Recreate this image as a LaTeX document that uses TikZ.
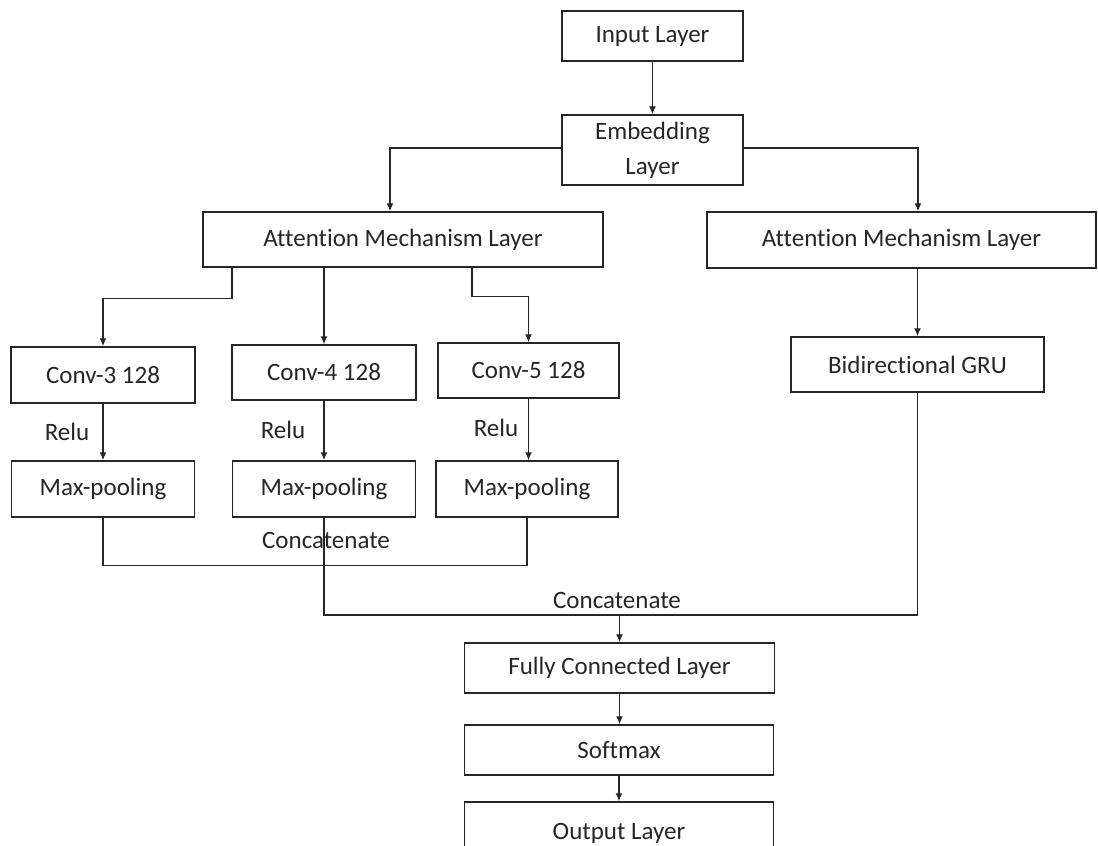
\documentclass[tikz,border=0pt]{standalone}
\usepackage{fontspec}
\setmainfont{Carlito}[Ligatures=NoCommon]
\usepackage{tikz}
\usetikzlibrary{arrows.meta,calc}
\tikzstyle{layer}=[draw=black!85,
                   line width=0.75pt,
                   inner sep=0pt,
                   text=black!85,
                   font=\fontsize{12.5}{17.5}\selectfont]
\tikzstyle{note}=[inner sep=0pt,text=black!85,font=\fontsize{12.5}{15}\selectfont]
\tikzstyle{link}=[draw=black!85,line width=0.65pt]
\tikzstyle{flow}=[link,-{Latex[length=4pt,width=3.5pt]}]

\begin{document}
\begin{tikzpicture}[x=0.5pt,y=-0.5pt]
    \path[use as bounding box,clip] (0,0) rectangle (1098,846);
    % top of the network
    \node[layer,minimum width=90.5pt,minimum height=25pt] (input) at (652.5,36) {Input Layer};
    \node[layer,minimum width=90.5pt,minimum height=35pt,align=center] (embed) at (652.5,150) {Embedding\\Layer};
    \node[layer,minimum width=200pt,minimum height=27.5pt] (attl) at (403,239.5) {Attention Mechanism Layer};
    \node[layer,minimum width=194.5pt,minimum height=28pt] (attr) at (901.5,240) {Attention Mechanism Layer};
    % convolution branch
    \node[layer,minimum width=92pt,minimum height=28pt] (conv3) at (103,375) {Conv-3 128};
    \node[layer,minimum width=92pt,minimum height=27.5pt] (conv4) at (324,372.5) {Conv-4 128};
    \node[layer,minimum width=90.5pt,minimum height=27.5pt] (conv5) at (528.5,370.5) {Conv-5 128};
    \node[layer,minimum width=91.5pt,minimum height=28pt] (pool1) at (103,489) {Max-pooling};
    \node[layer,minimum width=91.5pt,minimum height=28pt] (pool2) at (324,489) {Max-pooling};
    \node[layer,minimum width=91pt,minimum height=28pt] (pool3) at (527,489) {Max-pooling};
    \node[note] (relu1) at (67,432) {Relu};
    \node[note] (relu2) at (283,430) {Relu};
    \node[note] (relu3) at (496,428) {Relu};
    % recurrent branch
    \node[layer,minimum width=126.5pt,minimum height=27.5pt] (gru) at (917.5,364.5) {Bidirectional GRU};
    % output part
    \node[layer,minimum width=155pt,minimum height=25pt] (fc) at (619.5,668) {Fully Connected Layer};
    \node[layer,minimum width=154.5pt,minimum height=25pt] (soft) at (619,750) {Softmax};
    \node[layer,minimum width=154.5pt,minimum height=31pt] (output) at (619,833) {Output Layer};
    \node[note] (cat1) at (326,540) {Concatenate};
    \node[note] (cat2) at (617,600) {Concatenate};
    \coordinate (merge) at (619.5,615);

    \draw[flow] (input) -- (embed);
    \draw[flow] (embed.west |- 0,148) -| ([xshift=-6.5pt]attl.north);
    \draw[flow] (embed.east |- 0,148) -| ([xshift=8.25pt]attr.north);
    \draw[flow] ([xshift=-85.5pt]attl.south) -- ++(0,31) -| (conv3.north);
    \draw[flow] (attl.south -| conv4.north) -- (conv4.north);
    \draw[flow] ([xshift=34.5pt]attl.south) -- ++(0,29) -| (conv5.north);
    \draw[flow] (attr.south -| gru.north) -- (gru.north);
    \draw[flow] (conv3) -- (pool1);
    \draw[flow] (conv4) -- (pool2);
    \draw[flow] (conv5.south) -- (conv5.south |- pool3.north);
    \draw[link] (pool1.south) -- ++(0,48) -| (pool3.south);
    \draw[link] (pool2.south) |- (merge) -| (gru.south);
    \draw[flow] (merge) -- (fc.north);
    \draw[flow] (fc) -- (fc.south |- soft.north);
    \draw[flow] (soft) -- (output);
\end{tikzpicture}
\end{document}
